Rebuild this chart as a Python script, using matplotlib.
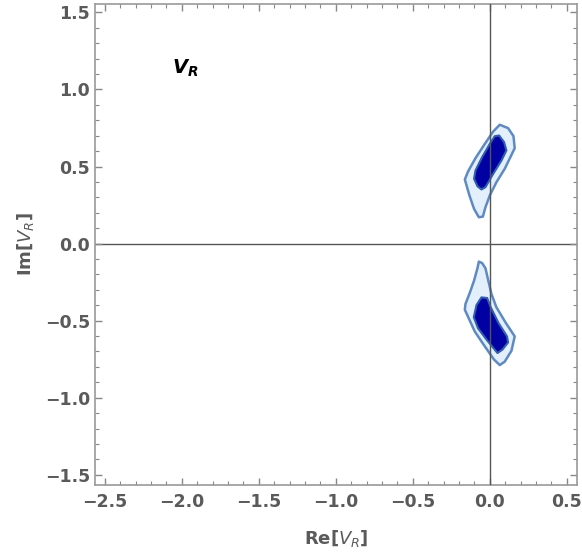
import matplotlib.pyplot as plt
from matplotlib.ticker import MultipleLocator

# contour outlines (Re, Im)
upper_outer_re = [0.065, 0.119, 0.154, 0.162, 0.097, 0.043, 0.000, -0.028, -0.045,
                  -0.071, -0.102, -0.132, -0.162, -0.141, -0.093, -0.032, 0.022]
upper_outer_im = [0.771, 0.749, 0.697, 0.619, 0.485, 0.398, 0.312, 0.236, 0.175,
                  0.171, 0.225, 0.312, 0.416, 0.468, 0.554, 0.647, 0.727]
upper_inner_re = [0.032, 0.061, 0.093, 0.108, 0.076, 0.022, -0.028, -0.054, -0.080,
                  -0.102, -0.093, -0.050, 0.000]
upper_inner_im = [0.697, 0.701, 0.658, 0.604, 0.539, 0.452, 0.366, 0.351, 0.372,
                  0.420, 0.474, 0.560, 0.647]

lower_outer_re = [-0.071, -0.050, -0.028, -0.011, 0.011, 0.043, 0.102, 0.162, 0.141,
                  0.097, 0.065, 0.028, -0.032, -0.097, -0.162, -0.158, -0.130, -0.102, -0.080]
lower_outer_im = [-0.117, -0.126, -0.160, -0.234, -0.327, -0.413, -0.511, -0.602, -0.695,
                  -0.766, -0.788, -0.753, -0.667, -0.571, -0.429, -0.392, -0.320, -0.240, -0.160]
lower_inner_re = [-0.054, -0.017, 0.006, 0.058, 0.112, 0.119, 0.082, 0.050, -0.021,
                  -0.076, -0.104, -0.086]
lower_inner_im = [-0.349, -0.353, -0.413, -0.517, -0.602, -0.641, -0.688, -0.710, -0.623,
                  -0.550, -0.478, -0.398]

x_min, x_max = -2.565, 0.565
y_min, y_max = -1.565, 1.555

fig = plt.figure(figsize=(5.82, 5.56), dpi=100)
ax = fig.add_axes([0.163, 0.128, 0.828, 0.865])

ax.axhline(0, color='#555555', lw=1.0, zorder=1)

for re, im in [(upper_outer_re, upper_outer_im), (lower_outer_re, lower_outer_im)]:
    ax.fill(re, im, facecolor='#e3f0fc', edgecolor='#5d8ac4', lw=1.8,
            joinstyle='round', zorder=2)
for re, im in [(upper_inner_re, upper_inner_im), (lower_inner_re, lower_inner_im)]:
    ax.fill(re, im, facecolor='#0000a3', edgecolor='#2f5fb0', lw=1.5,
            joinstyle='round', zorder=3)

# vertical axis line drawn over the contours
ax.axvline(0, color='#555555', lw=1.0, zorder=4)

ax.text(-1.98, 1.14, r'$\mathbfit{V}_{\mathbfit{R}}$', fontsize=14,
        ha='center', va='center', color='black')

ax.set_xlim(x_min, x_max)
ax.set_ylim(y_min, y_max)
ax.xaxis.set_major_locator(MultipleLocator(0.5))
ax.xaxis.set_minor_locator(MultipleLocator(0.1))
ax.yaxis.set_major_locator(MultipleLocator(0.5))
ax.yaxis.set_minor_locator(MultipleLocator(0.1))
ax.xaxis.set_major_formatter(lambda v, p: f'{v:.1f}'.replace('-', '\u2212'))
ax.yaxis.set_major_formatter(lambda v, p: f'{v:.1f}'.replace('-', '\u2212'))

ax.tick_params(which='both', direction='in', top=True, right=True,
               color='#888888', labelcolor='#5a5a5a', labelsize=12.5)
ax.tick_params(axis='x', which='major', pad=6)
ax.tick_params(which='major', length=5, width=1)
ax.tick_params(which='minor', length=3, width=0.8)
for lbl in ax.get_xticklabels() + ax.get_yticklabels():
    lbl.set_fontweight('bold')
for s in ax.spines.values():
    s.set_color('#999999')
    s.set_linewidth(1.2)

ax.set_xlabel(r'Re[$V_R$]', fontsize=13, color='#5a5a5a', fontweight='bold', labelpad=12)
ax.set_ylabel(r'Im[$V_R$]', fontsize=13, color='#5a5a5a', fontweight='bold', labelpad=6)

fig.savefig('out.png', dpi=100)
